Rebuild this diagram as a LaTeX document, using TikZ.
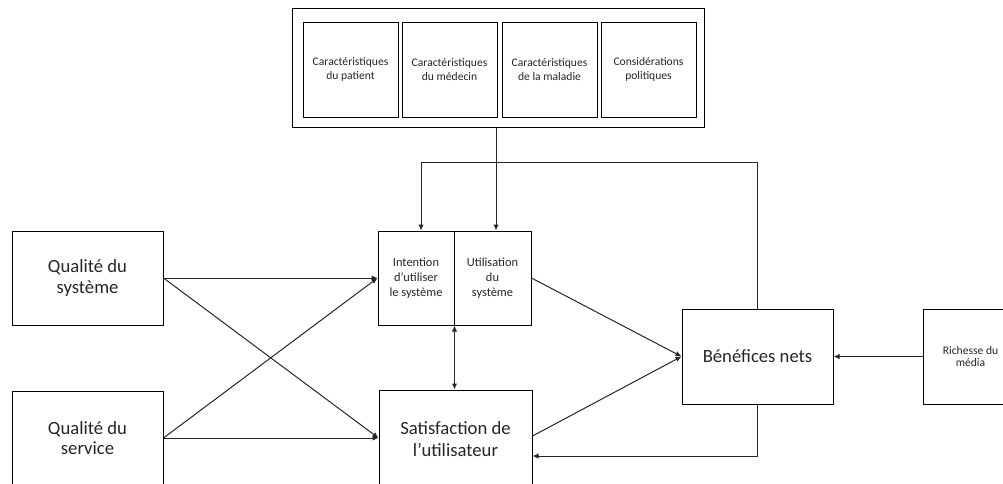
\documentclass[tikz,border=0pt]{standalone}
\usepackage{fontspec}
\setmainfont{Carlito}
\usetikzlibrary{arrows.meta}
\begin{document}
\begin{tikzpicture}[x=0.75pt,y=-0.75pt,
  box/.style={draw=black,line width=0.75pt,fill=white,inner sep=2pt,align=center,text=black!85},
  bigbox/.style={box,font=\fontsize{14}{15.5}\selectfont},
  smallbox/.style={box,font=\fontsize{8.7}{10}\selectfont,minimum width=95*0.75pt,minimum height=95*0.75pt},
  midbox/.style={box,font=\fontsize{9.3}{11.3}\selectfont,minimum height=94*0.75pt},
  conn/.style={line width=0.75pt,draw=black!85},
  arr/.style={conn,-{Latex[length=4.5pt,width=4pt]}},
  dblarr/.style={conn,{Latex[length=4.5pt,width=4pt]}-{Latex[length=4.5pt,width=4pt]}}]
\useasboundingbox (0,0) rectangle (1003,483);
\clip (0,0) rectangle (1003,483);

% factor group at the top
\node[box,minimum width=412*0.75pt,minimum height=119*0.75pt] (grp) at (498,67.5) {};
\node[smallbox] (pat) at (350.5,69.5) {Caractéristiques\\du patient};
\node[smallbox] (med) at (449.5,69.5) {Caractéristiques\\du médecin};
\node[smallbox] (mal) at (549.5,69.5) {Caractéristiques\\de la maladie};
\node[smallbox] (pol) at (648.5,69.5) {Considérations\\politiques};

% quality inputs
\node[bigbox,minimum width=151*0.75pt,minimum height=94*0.75pt] (qsys) at (87.5,278) {Qualité du\\système};
\node[bigbox,minimum width=151*0.75pt,minimum height=94*0.75pt] (qserv) at (87.5,438) {Qualité du\\service};

% intention / use split box
\node[midbox,minimum width=76*0.75pt] (int) at (416,278) {Intention\\d’utiliser\\le système};
\node[midbox,minimum width=77*0.75pt] (use) at (492.5,278) {Utilisation\\du\\système};

% user satisfaction
\node[bigbox,font=\fontsize{14}{16.5}\selectfont,minimum width=153*0.75pt,minimum height=98*0.75pt] (sat) at (455.5,439) {Satisfaction de\\l’utilisateur};

% net benefits and media richness
\node[bigbox,minimum width=151*0.75pt,minimum height=95*0.75pt] (ben) at (757.5,356.5) {Bénéfices nets};
\node[smallbox,font=\fontsize{8.7}{9.5}\selectfont] (rich) at (970.5,356.5) {Richesse du\\média};

% connectors
\draw[arr] ([xshift=-1.5pt]grp.south) -- ([xshift=-1.5pt]grp.south |- use.north);
\coordinate (fbtop) at (421,162);
\draw[arr] (ben.north) |- (fbtop) -- (fbtop |- int.north);
\coordinate (fbbot) at (0,456);
\draw[arr] (ben.south) |- (sat.east |- fbbot);
\draw[arr] (rich.west) -- (ben.west -| ben.east);

\coordinate (satin) at (sat.west |- qserv.east);
\draw[arr] (qsys.east) -- (int.west);
\draw[arr] (qsys.east) -- (satin);
\draw[arr] (qserv.east) -- (satin);
\draw[arr] (qserv.east) -- (int.west);

\draw[arr] (use.east) -- (ben.west);
\draw[arr] ([yshift=2.25pt]sat.east) -- (ben.west);
\draw[dblarr] (int.south east) -- (int.south east |- sat.north);
\end{tikzpicture}
\end{document}
